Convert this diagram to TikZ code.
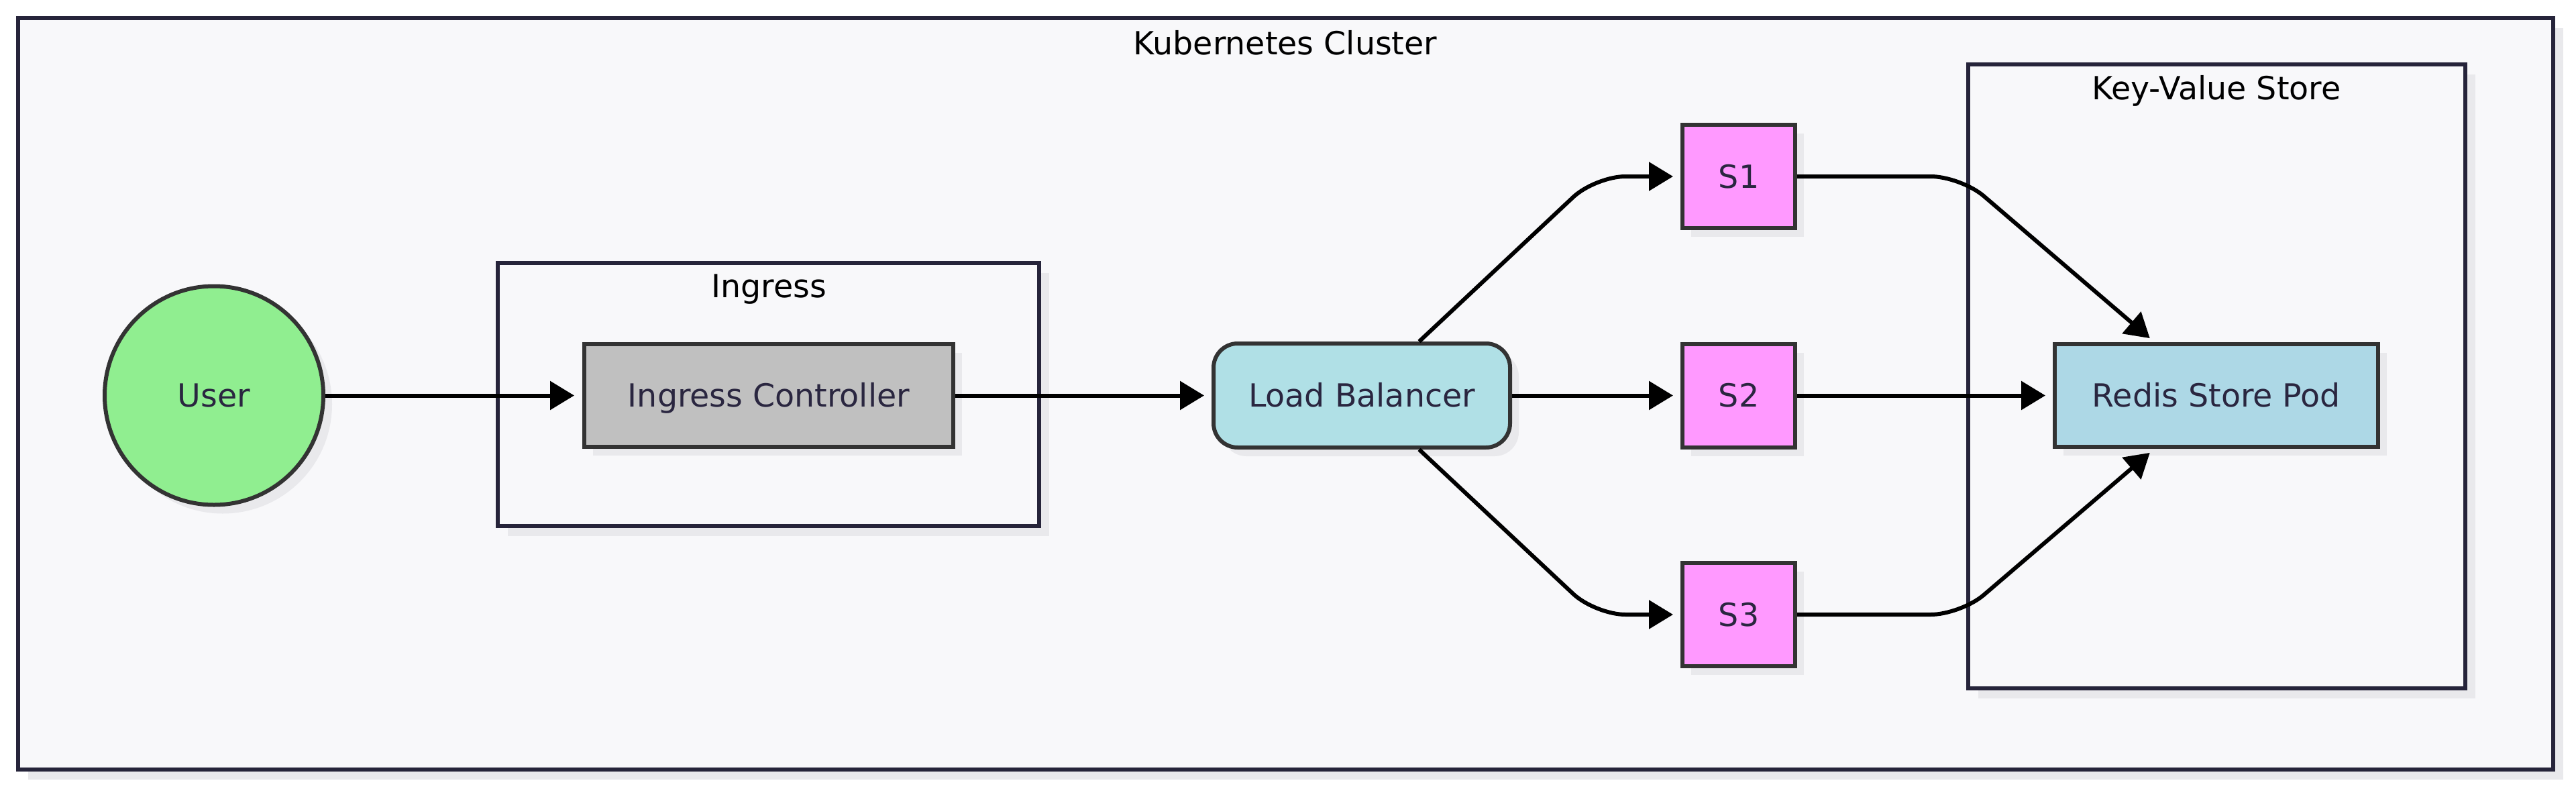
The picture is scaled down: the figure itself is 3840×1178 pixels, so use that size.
\documentclass[tikz,border=0pt]{standalone}
\usepackage{fontspec}
\setmainfont{DejaVu Sans}
\usetikzlibrary{arrows.meta,shadows}
\definecolor{bgc}{HTML}{F8F8FA}
\definecolor{clb}{HTML}{26243A}
\definecolor{ndb}{HTML}{333333}
\definecolor{shc}{HTML}{E9E9EC}
\definecolor{txc}{HTML}{2A2640}
\definecolor{ugreen}{HTML}{90EE90}
\definecolor{silverc}{HTML}{C0C0C0}
\definecolor{powder}{HTML}{B0E0E6}
\definecolor{pinkv}{HTML}{FF99FF}
\definecolor{lblue}{HTML}{ADD8E6}
\begin{document}
\begin{tikzpicture}[x=1pt,y=-1pt,
  txt/.style={font=\fontsize{47.5}{57}\selectfont},
  nd/.style={txt, draw=ndb, text=txc, line width=6pt, inner sep=0pt, outer sep=3pt,
    text height=34.6pt, text depth=0pt,
    drop shadow={shadow xshift=13pt, shadow yshift=-13pt, fill=shc, opacity=1}},
  clus/.style={draw=clb, fill=bgc, line width=6pt, inner sep=0pt, outer sep=3pt,
    drop shadow={shadow xshift=15pt, shadow yshift=-15pt, fill=shc, opacity=1}},
  lbl/.style={txt, text=black, anchor=base, inner sep=0pt},
  sbox/.style={nd, fill=pinkv, minimum width=168pt, minimum height=154pt},
  conn/.style={line width=6pt, draw=black, -{Triangle[length=36pt,width=42pt]}, shorten >=11pt},
  curv/.style={conn, rounded corners=45pt}
]
\useasboundingbox (0,0) rectangle (3840,1178);
\fill[white] (0,0) rectangle (3840,1178);

% clusters
\node[clus, minimum width=3779pt, minimum height=1120pt] (k8s) at (1916.5,587) {};
\node[lbl] (k8st) at (1916,81) {Kubernetes Cluster};
\node[clus, minimum width=807pt, minimum height=392pt] (ing) at (1145.5,588) {};
\node[lbl] (ingt) at (1146,443) {Ingress};
\node[clus, minimum width=741pt, minimum height=930pt] (kv) at (3304.5,561) {};
\node[lbl] (kvt) at (3304,148) {Key-Value Store};

% nodes
\node[nd, circle, fill=ugreen, minimum size=326pt] (user) at (319,589.5) {User};
\node[nd, fill=silverc, minimum width=550pt, minimum height=153pt] (ic) at (1146,589.5) {Ingress Controller};
\node[nd, fill=powder, rounded corners=36pt, minimum width=442pt, minimum height=155pt] (lb) at (2030,589.5) {Load Balancer};
\node[sbox] (s1) at (2592,263) {S1};
\node[sbox] (s2) at (2592,589.5) {S2};
\node[sbox] (s3) at (2592,916) {S3};
\node[nd, fill=lblue, minimum width=482pt, minimum height=153pt] (redis) at (3304,589.5) {Redis Store Pod};

% bend points
\coordinate (j1) at (2378,263);
\coordinate (j3) at (2378,916);
\coordinate (k1) at (2923,263);
\coordinate (k3) at (2923,916);

% connectors
\draw[conn, shorten >=12pt] (user) -- (ic);
\draw[conn] (ic) -- (lb);
\draw[conn] (lb) -- (s2);
\draw[curv] (lb) -- (j1) -- (s1);
\draw[curv] (lb) -- (j3) -- (s3);
\draw[conn] (s2) -- (redis);
\draw[curv, shorten >=9pt] (s1) -- (k1) -- (redis);
\draw[curv, shorten >=9pt] (s3) -- (k3) -- (redis);
\end{tikzpicture}
\end{document}
